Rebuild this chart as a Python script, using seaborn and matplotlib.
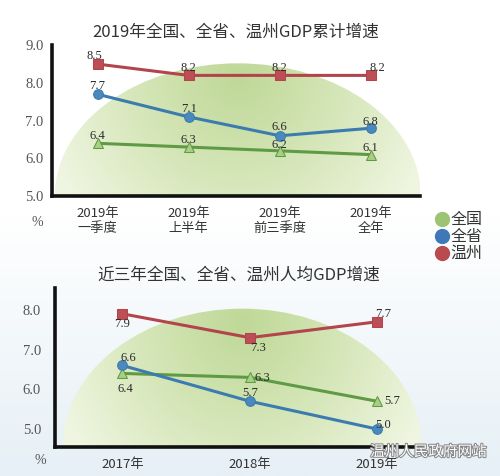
import numpy as np
import pandas as pd
import matplotlib
matplotlib.use("Agg")
import matplotlib.pyplot as plt
import seaborn as sns
from matplotlib.patches import Ellipse
from matplotlib.lines import Line2D
import matplotlib.colors as mcolors
import matplotlib.patheffects as pe

# data
series = ["全国", "全省", "温州"]

q_labels = ["2019年\n一季度", "2019年\n上半年", "2019年\n前三季度", "2019年\n全年"]
q_nation = [6.4, 6.3, 6.2, 6.1]
q_province = [7.7, 7.1, 6.6, 6.8]
q_wenzhou = [8.5, 8.2, 8.2, 8.2]

y_labels = ["2017年", "2018年", "2019年"]
y_nation = [6.4, 6.3, 5.7]
y_province = [6.6, 5.7, 5.0]
y_wenzhou = [7.9, 7.3, 7.7]

title_top = "2019年全国、全省、温州GDP累计增速"
title_bottom = "近三年全国、全省、温州人均GDP增速"

colors = {"全国": "#5f9a45", "全省": "#3b7bb0", "温州": "#b2454b"}
legend_colors = {"全国": "#9cc472", "全省": "#3f78b8", "温州": "#b94a4e"}
markers = {"全国": "^", "全省": "o", "温州": "s"}
face = {"全国": "#a8cf84", "全省": "#4a88bd", "温州": "#bb4f55"}

sns.set_style("white")
plt.rcParams['font.family'] = ['Noto Sans CJK SC', 'DejaVu Sans']
serif = "Liberation Serif"

fig = plt.figure(figsize=(5, 4.76), dpi=100)

# faint background gradient
bg = fig.add_axes([0, 0, 1, 1], zorder=-10)
g = np.linspace(0, 1, 256).reshape(-1, 1)
g = np.clip((g - 0.45) / 0.55, 0, 1)
bg_cmap = mcolors.LinearSegmentedColormap.from_list("bg", ["#ffffff", "#e6f0f6"])
bg.imshow(g, aspect="auto", cmap=bg_cmap, extent=[0, 1, 0, 1], origin="upper")
bg.axis("off")

green_cmap = mcolors.LinearSegmentedColormap.from_list("gr", ["#bfd897", "#d5e6b8", "#eff5e0"])


def long_df(nat, prov, wz):
    rows = []
    for name, vals in zip(series, [nat, prov, wz]):
        for i, v in enumerate(vals):
            rows.append({"pos": i, "val": v, "series": name})
    return pd.DataFrame(rows)


def dome(ax, cx, half_w, y0, height):
    ell = Ellipse((cx, y0), 2 * half_w, 2 * height, facecolor="none", edgecolor="none")
    ax.add_patch(ell)
    xx = np.linspace(-1, 1, 300)
    yy = np.linspace(0, 1, 200)
    X, Y = np.meshgrid(xx, yy)
    r = np.sqrt(X ** 2 + ((Y - 0.9) / 1.4) ** 2)
    im = ax.imshow(r, extent=[cx - half_w, cx + half_w, y0, y0 + height], origin="lower",
                   cmap=green_cmap, aspect="auto", zorder=0, vmin=0, vmax=1.1)
    im.set_clip_path(ell)


def panel(ax, df, labels, ylim, xlim, yticks, offsets, title, show_yticks):
    sns.lineplot(data=df, x="pos", y="val", hue="series", style="series",
                 palette=colors, markers=markers, dashes=False, legend=False,
                 sort=False, linewidth=2.2, markersize=7, ax=ax, zorder=3)
    for line, name in zip(ax.get_lines(), series):
        line.set_markerfacecolor(face[name])
        line.set_markeredgecolor(colors[name])
    for name in series:
        sub = df[df.series == name]
        for (p, v), (dx, dy) in zip(zip(sub.pos, sub.val), offsets[name]):
            ax.annotate(f"{v:.1f}", (p, v), xytext=(dx * 0.72, dy * 0.72),
                        textcoords="offset points", ha="center", va="center",
                        fontsize=9, family=serif, color="#2a2a2a", zorder=5)
    ax.set_xlim(*xlim)
    ax.set_ylim(*ylim)
    ax.set_xticks(range(len(labels)), labels)
    ax.set_xticks([i + 0.5 for i in range(len(labels) - 1)], minor=True)
    ax.tick_params(axis="x", which="major", length=0, labelsize=9.5, colors="#333333", pad=8)
    ax.tick_params(axis="x", which="minor", direction="in", length=7, width=1.2, color="#222222")
    ax.set_yticks(yticks, [f"{t:.1f}" for t in yticks])
    if show_yticks:
        ax.tick_params(axis="y", direction="in", length=4, width=1, color="#222222", pad=6)
    else:
        ax.tick_params(axis="y", length=0, pad=10)
    ax.tick_params(axis="y", labelsize=10.5, labelcolor="#555555", labelfontfamily=serif)
    for t in ax.get_xticklabels():
        t.set_fontweight("medium")
    ax.set_xlabel("")
    ax.set_ylabel("")
    for s in ["top", "right"]:
        ax.spines[s].set_visible(False)
    for s in ["left", "bottom"]:
        ax.spines[s].set_color("#111111")
        ax.spines[s].set_linewidth(2.6)
    ax.patch.set_alpha(0)
    ax.set_title(title, fontsize=12, color="#333333", pad=6, fontweight="medium")


# top panel
ax1 = fig.add_axes([0.104, 0.588, 0.736, 0.317])
df1 = long_df(q_nation, q_province, q_wenzhou)
dome(ax1, 1.54, 2.01, 5.0, 3.52)
off1 = {
    "全国": [(0, 7), (0, 7), (0, 6), (0, 7)],
    "全省": [(0, 8), (0, 8), (0, 9), (0, 6)],
    "温州": [(-3, 8), (0, 7), (0, 7), (7, 7)],
}
panel(ax1, df1, q_labels, (5.0, 9.0), (-0.5, 3.54), [5.0, 6.0, 7.0, 8.0, 9.0], off1, title_top, True)
fig.text(37 / 500, 1 - 222 / 476, "%", family=serif, fontsize=10, color="#555555", ha="center", va="center")

# bottom panel
ax2 = fig.add_axes([0.11, 0.061, 0.736, 0.334])
df2 = long_df(y_nation, y_province, y_wenzhou)
dome(ax2, 0.94, 1.41, 4.55, 3.48)
off2 = {
    "全国": [(3, -16), (13, -1), (15, 0)],
    "全省": [(6, 7), (0, 8), (6, 4)],
    "温州": [(0, -10), (8, -10), (6, 8)],
}
panel(ax2, df2, y_labels, (4.55, 8.55), (-0.53, 2.36), [5.0, 6.0, 7.0, 8.0], off2, title_bottom, False)
fig.text(40 / 500, 1 - 460 / 476, "%", family=serif, fontsize=10, color="#555555", ha="center", va="center")

# legend
handles = [Line2D([], [], marker="o", linestyle="", markersize=10, markerfacecolor=legend_colors[n],
                  markeredgecolor=legend_colors[n]) for n in series]
fig.legend(handles, series, loc="upper left", bbox_to_anchor=(430 / 500, 1 - 208 / 476),
           frameon=False, handletextpad=0.0, labelspacing=0.0, fontsize=11.5,
           handlelength=1.1, labelcolor="#333333", borderaxespad=0, borderpad=0.2)

# watermark
fig.text(487 / 500, 1 - 452 / 476, "温州人民政府网站", ha="right", va="center", fontsize=10.5,
         color="white", path_effects=[pe.withStroke(linewidth=1.5, foreground="#888888")])

fig.savefig("out.png", dpi=100)
